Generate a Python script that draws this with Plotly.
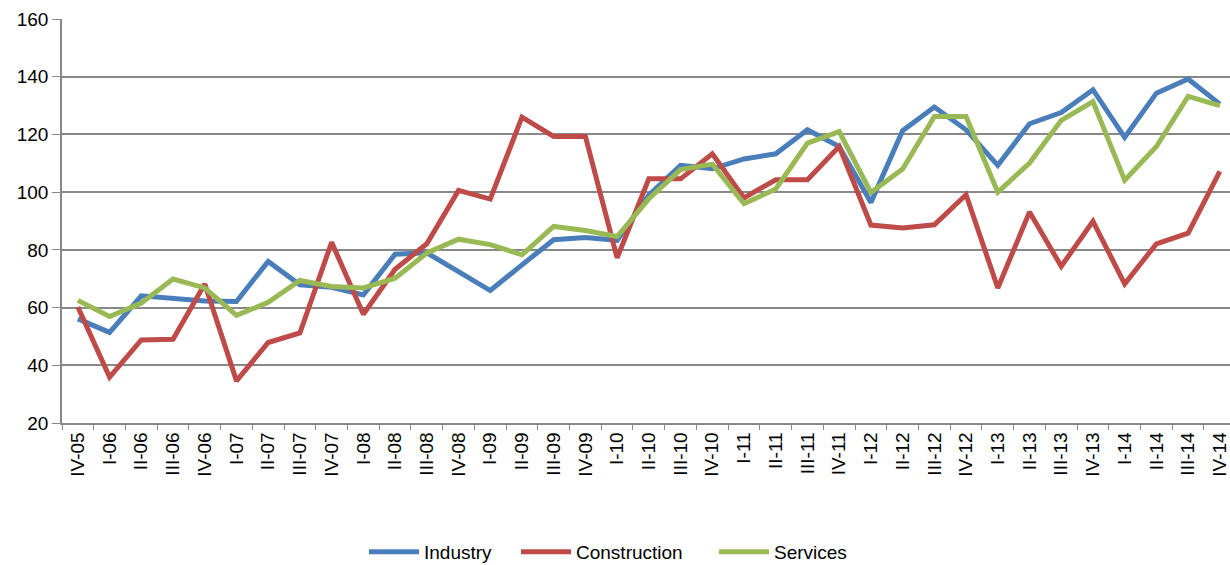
import plotly.graph_objects as go

quarters = ["IV-05", "I-06", "II-06", "III-06", "IV-06", "I-07", "II-07", "III-07", "IV-07",
            "I-08", "II-08", "III-08", "IV-08", "I-09", "II-09", "III-09", "IV-09",
            "I-10", "II-10", "III-10", "IV-10", "I-11", "II-11", "III-11", "IV-11",
            "I-12", "II-12", "III-12", "IV-12", "I-13", "II-13", "III-13", "IV-13",
            "I-14", "II-14", "III-14", "IV-14"]

industry = [56.1, 51.4, 64.1, 63.0, 62.3, 62.1, 76.0, 67.9, 67.0,
            64.4, 78.5, 79.0, 72.5, 65.9, 74.8, 83.5, 84.3,
            83.3, 99.0, 109.3, 108.1, 111.5, 113.3, 121.6, 115.8,
            96.4, 121.3, 129.5, 121.6, 109.3, 123.7, 127.6, 135.5,
            119.0, 134.3, 139.2, 130.5]

construction = [60.2, 35.9, 48.8, 49.0, 68.2, 34.6, 47.9, 51.2, 82.6,
                57.7, 73.3, 82.1, 100.6, 97.6, 126.0, 119.3, 119.3,
                77.2, 104.6, 104.6, 113.3, 98.0, 104.3, 104.3, 115.8,
                88.6, 87.6, 88.7, 99.1, 66.8, 93.1, 74.3, 89.9,
                68.2, 82.1, 85.8, 107.2]

services = [62.5, 56.9, 61.6, 69.9, 66.8, 57.3, 61.8, 69.4, 67.3,
            66.8, 70.2, 78.9, 83.7, 81.8, 78.3, 88.1, 86.7,
            84.6, 97.7, 107.8, 109.7, 96.0, 101.1, 117.0, 121.0,
            99.9, 108.0, 126.2, 126.2, 100.0, 110.1, 124.9, 131.4,
            104.1, 115.8, 133.2, 130.0]

series = [("Industry", industry, "#4A7EBB", "legend"),
          ("Construction", construction, "#BE4B48", "legend2"),
          ("Services", services, "#98B954", "legend3")]

fig = go.Figure()
for name, vals, color, leg in series:
    fig.add_trace(go.Scatter(x=quarters, y=vals, mode="lines", name=name, legend=leg,
                             line=dict(color=color, width=5)))

# one legend per series so the entries sit where the original puts them
legend_style = dict(orientation="h", xref="container", xanchor="left",
                    yref="container", y=0.023, yanchor="middle",
                    font=dict(size=19), itemwidth=50)

fig.update_layout(
    width=1230, height=565,
    margin=dict(l=62, r=0, t=19, b=142),
    plot_bgcolor="white", paper_bgcolor="white",
    font=dict(family="Liberation Sans, Arial, sans-serif", size=19, color="black"),
    showlegend=True,
    legend=dict(x=364 / 1230, **legend_style),
    legend2=dict(x=516 / 1230, **legend_style),
    legend3=dict(x=714 / 1230, **legend_style),
)
fig.update_xaxes(
    type="category", range=[-0.5, 36.32], automargin=False,
    tickangle=-90, tickfont=dict(size=19),
    showline=True, linecolor="#888888", linewidth=1.5,
    ticks="outside", ticklen=5, tickcolor="#888888", tickson="boundaries",
    showgrid=False,
)
fig.update_yaxes(
    range=[20, 160], dtick=20, automargin=False,
    showline=True, linecolor="#888888", linewidth=1.5,
    ticks="outside", ticklen=8, tickcolor="#888888",
    showgrid=True, gridcolor="#888888", gridwidth=1.5,
    zeroline=False, tickfont=dict(size=19),
)

# page has a default body margin; drop it so the figure sits at the top-left corner
fig.write_html("out.html", config={"displayModeBar": False},
               post_script="document.body.style.margin='0';")
